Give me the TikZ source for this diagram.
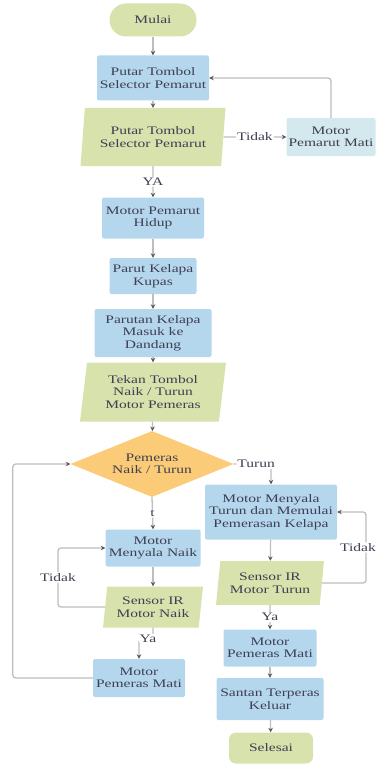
\documentclass[tikz,border=0pt]{standalone}
\usepackage{fontspec}
\setmainfont{Liberation Serif}[FakeStretch=1.35]
\usetikzlibrary{shapes.geometric,arrows.meta}

\definecolor{boxBlue}{HTML}{B5D7EE}
\definecolor{boxPale}{HTML}{D3E9EE}
\definecolor{boxGreen}{HTML}{D7E2AD}
\definecolor{boxOrange}{HTML}{FBCB77}
\definecolor{txtGray}{HTML}{3E3F52}
\definecolor{lineGray}{HTML}{BDBDBD}

\tikzstyle{procNode}=[rectangle,rounded corners=2pt,fill=boxBlue,align=center,inner sep=0pt,text=txtGray,font=\fontsize{11.5}{12.5}\selectfont]
\tikzstyle{ioNode}=[trapezium,trapezium left angle=78,trapezium right angle=102,trapezium stretches body,fill=boxGreen,align=center,inner sep=0pt,text=txtGray,font=\fontsize{11.5}{12.5}\selectfont]
\tikzstyle{termNode}=[rectangle,fill=boxGreen,align=center,inner sep=0pt,text=txtGray,font=\fontsize{11.5}{12.5}\selectfont]
\tikzstyle{decNode}=[diamond,aspect=2.5,fill=boxOrange,align=center,inner sep=0pt,text=txtGray,font=\fontsize{11.5}{12.5}\selectfont]
\tikzstyle{lbl}=[fill=white,inner sep=1pt,text=txtGray,font=\fontsize{11.5}{12.5}\selectfont]
\tikzstyle{conn}=[draw=lineGray,line width=1.3pt,rounded corners=3pt]

\begin{document}
\begin{tikzpicture}[x=1pt,y=-1pt,>={Stealth[length=4.5pt,width=4.5pt,color=black!65]}]

  \useasboundingbox (0,0) rectangle (378,765);

  % main column
  \node[termNode,rounded corners=16.5pt,minimum width=87,minimum height=33] (mulai) at (153,20) {Mulai};
  \node[procNode,minimum width=112,minimum height=45] (putar) at (153,78) {Putar Tombol\\Selector Pemarut};
  \node[ioNode,minimum width=145,minimum height=58] (pilih) at (153,137) {Putar Tombol\\Selector Pemarut};
  \node[procNode,fill=boxPale,minimum width=89,minimum height=38] (pmati) at (331,137) {Motor\\Pemarut Mati};
  \node[procNode,minimum width=102,minimum height=41] (hidup) at (153,218) {Motor Pemarut\\Hidup};
  \node[procNode,minimum width=87,minimum height=36] (kupas) at (153,276) {Parut Kelapa\\Kupas};
  \node[procNode,minimum width=117,minimum height=48] (dandang) at (153,333) {Parutan Kelapa\\Masuk ke\\Dandang};
  \node[ioNode,minimum width=146,minimum height=59] (tekan) at (153,392) {Tekan Tombol\\Naik / Turun\\Motor Pemeras};
  \node[decNode,minimum width=163,minimum height=66] (pemeras) at (152,464) {Pemeras\\Naik / Turun};

  % turun branch
  \node[procNode,minimum width=132,minimum height=55] (turun) at (271,512) {Motor Menyala\\Turun dan Memulai\\Pemerasan Kelapa};
  \node[ioNode,minimum width=108,minimum height=44] (sensorT) at (270,583) {Sensor IR\\Motor Turun};
  \node[procNode,minimum width=93,minimum height=37] (matiR) at (270,648) {Motor\\Pemeras Mati};
  \node[procNode,minimum width=107,minimum height=42] (santan) at (270,699) {Santan Terperas\\Keluar};
  \node[termNode,rounded corners=7pt,minimum width=84,minimum height=31] (selesai) at (271,748) {Selesai};

  % naik branch
  \node[procNode,minimum width=95,minimum height=37] (naik) at (153,548) {Motor\\Menyala Naik};
  \node[ioNode,minimum width=100,minimum height=41] (sensorN) at (153,607) {Sensor IR\\Motor Naik};
  \node[procNode,minimum width=92,minimum height=38] (matiL) at (139,678) {Motor\\Pemeras Mati};

  \path[->,conn](mulai)--(putar);
  \path[->,conn](putar)--(pilih);
  \path[->,conn](pilih.east)--(pmati.west) node[lbl,midway]{Tidak};
  \path[->,conn](pmati.north)|-(putar.east);
  \path[->,conn](pilih)--(hidup) node[lbl,midway]{YA};
  \path[->,conn](hidup)--(kupas);
  \path[->,conn](kupas)--(dandang);
  \path[->,conn](dandang)--(tekan);
  \path[->,conn](tekan)--(pemeras);

  \path[->,conn](pemeras.east)-|(turun.north) node[lbl,pos=0.3]{Turun};
  \path[->,conn](turun)--(sensorT);
  \path[->,conn](sensorT.east)--++(44,0)|-(turun.east) node[lbl,pos=0.25,xshift=-8pt]{Tidak};
  \path[->,conn](sensorT)--(matiR) node[lbl,midway]{Ya};
  \path[->,conn](matiR)--(santan);
  \path[->,conn](santan)--(selesai);

  \path[->,conn](pemeras.south)--(naik.north) node[lbl,midway]{t};
  \path[->,conn](naik)--(sensorN);
  \path[->,conn](sensorN.west)--++(-47,0)|-(naik.west) node[lbl,pos=0.25]{Tidak};
  \path[->,conn](sensorN.south)--++(0,11) node[lbl,xshift=-5pt]{Ya} -|(matiL.north);
  \path[->,conn](matiL.west)--++(-80,0)|-(pemeras.west);

\end{tikzpicture}
\end{document}
